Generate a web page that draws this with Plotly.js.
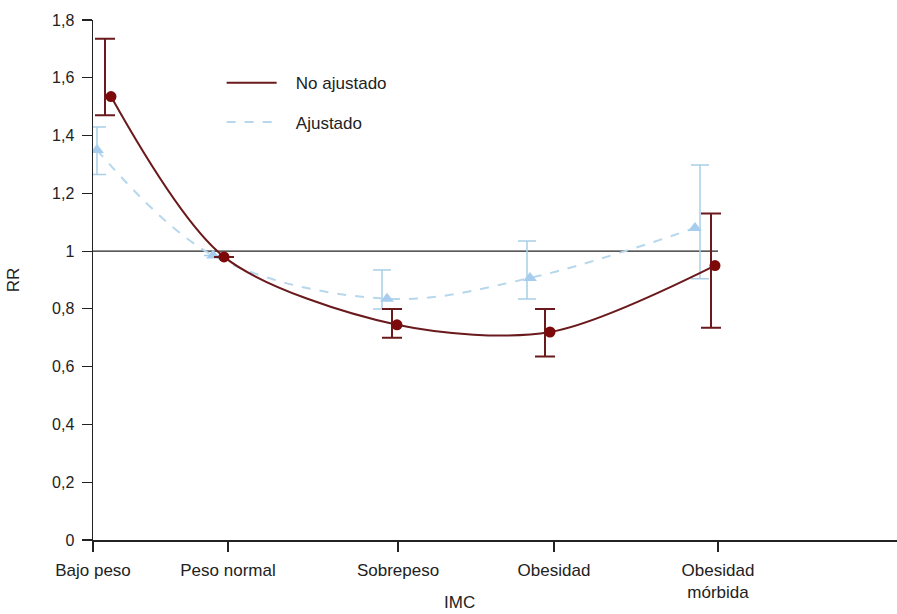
<!DOCTYPE html>
<html>
<head>
<meta charset="utf-8">
<script src="https://cdn.plot.ly/plotly-3.0.1.min.js"></script>
<style>html,body{margin:0;padding:0;background:#fff;}#chart{width:897px;height:614px;}</style>
</head>
<body>
<div id="chart"></div>
<script>
// Categories (IMC) and their axis positions
const categories = ["Bajo peso", "Peso normal", "Sobrepeso", "Obesidad", "Obesidad<br>mórbida"];
const categoryPos = [0, 1.35, 3.05, 4.61, 6.25];

// No ajustado (RR, IC95%)
const noAjX = [0.18, 1.31, 3.04, 4.57, 6.22];
const noAjRR = [1.535, 0.98, 0.745, 0.72, 0.95];
const noAjErrX = [0.12, 1.31, 2.99, 4.52, 6.18];
const noAjUpper = [1.735, null, 0.80, 0.80, 1.13];
const noAjLower = [1.47, null, 0.70, 0.635, 0.735];

// Ajustado (RR, IC95%)
const ajX = [0.04, 1.20, 2.94, 4.37, 6.02];
const ajRR = [1.35, 0.985, 0.835, 0.907, 1.08];
const ajErrX = [0.04, 1.20, 2.89, 4.34, 6.07];
const ajUpper = [1.43, null, 0.935, 1.035, 1.298];
const ajLower = [1.265, null, 0.80, 0.834, 0.904];

const yTicks = [0, 0.2, 0.4, 0.6, 0.8, 1, 1.2, 1.4, 1.6, 1.8];

const red = "#6a1a1c";
const redMarker = "#7d0a0a";
const blue = "#b6d7ec";
const blueMarker = "#a6cdee";
const FONT = "'Liberation Sans', Arial, Helvetica, sans-serif";
const PAD = "\u00a0\u00a0\u00a0";

function plus(rr, up) { return rr.map((v, i) => up[i] == null ? 0 : up[i] - v); }
function minus(rr, lo) { return rr.map((v, i) => lo[i] == null ? 0 : v - lo[i]); }

const traces = [
  {
    x: ajErrX, y: ajRR, type: "scatter", mode: "markers",
    marker: { opacity: 0, size: 1 }, showlegend: false, hoverinfo: "skip",
    error_y: { type: "data", symmetric: false, array: plus(ajRR, ajUpper), arrayminus: minus(ajRR, ajLower),
      color: "#a9cfe8", thickness: 1.5, width: 9 }
  },
  {
    x: ajX, y: ajRR, type: "scatter", mode: "lines", name: PAD + "Ajustado",
    line: { color: blue, width: 2, dash: "dash", shape: "spline", smoothing: 1.0 },
    legendgroup: "b", legendrank: 2
  },
  {
    x: ajX, y: ajRR, type: "scatter", mode: "markers", showlegend: false,
    marker: { symbol: "triangle-up", size: 12, color: blueMarker }
  },
  {
    x: noAjErrX, y: noAjRR, type: "scatter", mode: "markers",
    marker: { opacity: 0, size: 1 }, showlegend: false, hoverinfo: "skip",
    error_y: { type: "data", symmetric: false, array: plus(noAjRR, noAjUpper), arrayminus: minus(noAjRR, noAjLower),
      color: red, thickness: 2, width: 10 }
  },
  {
    x: noAjX, y: noAjRR, type: "scatter", mode: "lines", name: PAD + "No ajustado",
    line: { color: red, width: 2, shape: "spline", smoothing: 0.85 },
    legendgroup: "a", legendrank: 1
  },
  {
    x: noAjX, y: noAjRR, type: "scatter", mode: "markers", showlegend: false,
    marker: { symbol: "circle", size: 11, color: redMarker }
  }
];

const layout = {
  width: 897, height: 614,
  margin: { l: 93, r: 0, t: 20, b: 74 },
  paper_bgcolor: "#fff", plot_bgcolor: "#fff",
  separators: ", ",
  font: { family: FONT, size: 16, color: "#222" },
  showlegend: true,
  legend: {
    x: 0.16, y: 0.913, xanchor: "left", yanchor: "top",
    font: { family: FONT, size: 17, color: "#222" },
    tracegroupgap: 14, bgcolor: "rgba(0,0,0,0)", itemwidth: 50
  },
  xaxis: {
    range: [0, 8.04], showgrid: false, zeroline: false,
    showline: true, linecolor: "#222", linewidth: 1.5,
    tickmode: "array", tickvals: categoryPos, ticktext: categories,
    ticks: "outside", ticklen: 10, tickcolor: "#222", tickwidth: 1.2,
    ticklabelstandoff: 4,
    tickfont: { family: FONT, size: 17, color: "#222" },
    fixedrange: true
  },
  yaxis: {
    range: [0, 1.8], showgrid: false, zeroline: false,
    showline: true, linecolor: "#222", linewidth: 1.5,
    tickmode: "array", tickvals: yTicks,
    ticks: "outside", ticklen: 10, tickcolor: "#222", tickwidth: 1.2,
    ticklabelstandoff: 4,
    tickfont: { family: FONT, size: 16, color: "#222" },
    title: { text: "RR", font: { family: FONT, size: 17, color: "#222" }, standoff: 28 },
    fixedrange: true
  },
  annotations: [
    { text: "IMC", xref: "paper", yref: "paper", x: 0.456, y: -0.121, xanchor: "center", yanchor: "middle",
      showarrow: false, font: { family: FONT, size: 17, color: "#222" } }
  ],
  shapes: [
    { type: "line", xref: "x", yref: "y", x0: 0, x1: categoryPos[categoryPos.length - 1], y0: 1, y1: 1,
      line: { color: "#222", width: 1.3 }, layer: "below" }
  ]
};

Plotly.newPlot("chart", traces, layout, { displayModeBar: false, staticPlot: true });
</script>
</body>
</html>
